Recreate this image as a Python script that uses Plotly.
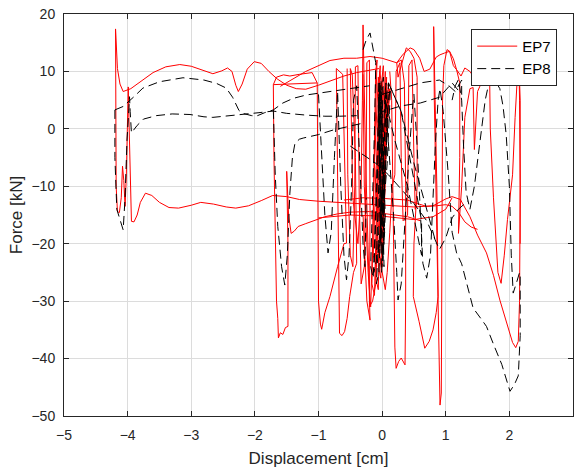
import plotly.graph_objects as go

# ---------------- EP7 (red, solid) segments ----------------
ep7_upper_x = [-4.19,-4.18,-4.16,-4.12,-4.07,-3.95,-3.8,-3.6,-3.4,-3.18,-3.0,-2.8,-2.66,-2.52,-2.43,-2.36,-2.3,-2.26,-2.2,-2.12,-2.01,-1.9,-1.78,-1.65,-1.5,-1.35,-1.2,-1.0,-0.8,-0.6,-0.4,-0.2,-0.05]
ep7_upper_y = [17.4,14,10.5,7.8,6.5,7.0,8.2,9.8,10.8,11.2,10.9,10.1,9.6,10.1,10.6,10.0,7.6,6.5,7.8,10.4,11.7,11.4,10.0,8.7,7.6,7.0,6.9,7.6,8.4,9.2,9.8,10.2,10.5]

ep7_lower_x = [-4.19,-4.19,-4.18,-4.16,-4.13,-4.1,-4.08,-4.06,-4.04,-4.02,-4.0,-3.99,-3.98,-3.96,-3.94,-3.9,-3.85,-3.8,-3.72,-3.62,-3.5,-3.35,-3.2,-3.0,-2.85,-2.65,-2.45,-2.3,-2.1,-1.9,-1.72,-1.5,-1.3,-1.0,-0.7,-0.4,-0.1,0.2,0.5,0.8,1.0,1.1,1.23,1.38,1.5,1.64,1.75,1.85,1.95,2.05,2.1,2.14,2.16,2.17,2.16,2.15]
ep7_lower_y = [17.4,0,-10,-14.4,-14.6,-12,-6.5,-9,-13.5,-8,2,7.3,2,-10,-16.1,-16.2,-15,-12.8,-11.2,-11.6,-12.8,-13.7,-13.8,-13.3,-12.8,-13.1,-13.6,-13.8,-13.4,-12.5,-11.6,-11.8,-12.3,-12.6,-12.8,-12.9,-13.1,-13.3,-13.6,-13.4,-12.2,-11.8,-12.3,-15.3,-18.5,-21.6,-25.5,-29.8,-33.5,-37.2,-38.1,-37,-30,-10,5,11.5]

ep7_m17_x = [-1.71,-1.66,-1.55,-1.45,-1.3,-1.1,-1.02,-1.71,-1.70,-1.68,-1.66,-1.64,-1.63,-1.6,-1.56,-1.52,-1.48,-1.48,-1.50,-1.47,-1.43,-1.38,-1.32,-1.2,-1.05,-0.9,-0.7,-0.5,-0.2,0.1,0.4,0.6]
ep7_m17_y = [7.7,9.0,9.4,9.2,9.5,9.8,8.0,7.7,-5,-20,-30,-33,-36.4,-35.5,-35.8,-34.6,-34.4,-20,-7.4,-15,-18.2,-17.8,-17.0,-16.5,-15.9,-15.3,-14.8,-14.5,-14.4,-14.8,-15.3,-16.0]

ep7_m10_x = [-1.02,-1.01,-1.0,-0.97,-0.95,-0.9,-0.82,-0.7,-0.6,-0.56,-0.62,-0.72,-0.70,-0.68,-0.67,-0.63,-0.59,-0.55,-0.51,-0.45,-0.40,-0.42,-0.47,-0.50,-0.46,-0.38,-0.33,-0.31,-0.30,-0.26,-0.20,-0.19,-0.24,-0.30]
ep7_m10_y = [8.0,-10,-30,-34,-34.9,-32,-29.2,-24,-20,-19.9,9.5,10.5,-5,-25,-35.6,-36,-35.3,-33,-29.2,-25,-23.4,-5,9.5,10.5,-12,-20,-10,5,18.1,-5,-28,-33.3,-30,-15]

ep7_center_x = [-0.3,-0.28,-0.22,-0.18,-0.15,-0.12,-0.1,-0.08,-0.12,-0.16,-0.12,-0.08,-0.05,-0.03,-0.07,-0.1,-0.06,-0.02,0.0,0.02,-0.02,-0.06,-0.02,0.02,0.04,0.05,0.0,-0.04,0.0,0.04,0.06,0.02,-0.02,0.02,0.06,0.07,0.03,-0.04,0.01,0.05,-0.02,-0.08,-0.03,0.02,-0.04,-0.1,-0.14,-0.09,-0.05,0.0,-0.06,-0.12,-0.06,0.03,0.08,0.1,0.04,-0.03,0.02,0.09,0.12,0.06]
ep7_center_y = [9.5,-10,-25,-31,-20,0,10,12,-5,-27,-29,-10,8,11,-10,-26,-28,-8,9,11,-8,-24,-26,-6,8,10,-10,-22,-24,-4,7,-12,-20,-21,-2,9,-5,-19,-18,5,8,-16,-14,6,10,-8,-22,-24,-12,4,9,-6,-17,-15,2,8,-4,-13,-11,3,7,-2]

ep7_fan_x = [-0.55,-0.54,-0.5,-0.46,-0.43,-0.42,-0.38,-0.36,-0.33,-0.28,-0.25,-0.24,-0.2,-0.19,-0.2,-0.15,-0.1,-0.08,0.05,0.08,0.12,0.16,0.2,0.22,0.28,0.3,0.33,0.4,0.42,0.47,0.5,0.52,0.55]
ep7_fan_y = [10.5,-8,-22,-24,-10,10.8,11,-12,-27,-24,-5,11.5,12,-15,-31,-30,-27,-20,-28,-25,-18,-10,-8,10,11.5,-5,-16,-15,11,12,-5,-14,-12.5]

ep7_right_x = [0.12,0.15,0.18,0.2,0.22,0.26,0.3,0.34,0.36,0.37,0.37,0.35,0.3,0.23,0.25,0.3,0.38,0.44,0.5,0.55,0.55,0.5,0.49,0.58,0.67,0.74,0.80,0.85,0.88,0.86,0.83,0.81,0.82,0.85,0.88,0.90,0.91,0.93,0.94,0.95,0.95,0.97,1.02,1.06,1.12,1.17,1.22,1.22,1.21,1.2,1.25,1.3,1.38,1.43,1.45,1.5,1.6,1.66,1.69,1.70,1.75,1.82,1.87,1.92,1.97,2.05,2.09,2.12,2.15,2.17,2.17]
ep7_right_y = [10,5,-20,-38,-41.7,-40.5,-39.9,-40.6,-41.1,-30,-10,8,12,11.5,9,11,14.1,13.5,12.3,9,-10,-20,-29.2,-33.5,-38.2,-37,-35,-32,-29.2,-10,8,17.8,5,-15,-35,-45,-48.1,-46,-30,-10,5,11,13.8,13.5,11,10.3,8,-5,-14,-18.2,-10,2,7,7.2,-3.6,6.5,9,10.5,9.1,0,-12,-25,-26.9,-22,-15.8,-8,2,8,11.5,5,-20]

ep7_top_x = [-1.6,-1.2,-0.82,-0.6,-0.4,-0.19,0.0,0.23,0.33,0.44,0.5,0.59,0.66,0.75,0.85,0.91,0.98,1.06,1.12,1.17,1.24,1.3,1.38,1.44]
ep7_top_y = [7.4,10.0,11.9,12.3,12.3,12.6,12.3,11.5,13.0,14.1,13.8,12.3,10.0,10.4,12.5,12.9,13.2,13.5,12.2,10.3,9.2,10.6,10.0,9.0]

ep7_mid_x = [-0.6,-0.3,0.0,0.2,0.4,0.55,0.7,0.85,1.0,1.1,1.2,1.3,1.4,1.5]
ep7_mid_y = [-12.4,-12.0,-12.1,-12.3,-12.4,-13.0,-13.5,-13.4,-13.2,-13.5,-14.5,-16.2,-17.1,-17.5]

ep7_band_x = [-1.0,-0.5,0.0,0.5,0.8,1.0,1.1]
ep7_band_y = [-15.5,-15.0,-15.2,-15.8,-15.3,-14.0,-12.0]

# ---------------- EP8 (black, dashed) segments ----------------
ep8_low_x = [-4.2,-4.2,-4.17,-4.12,-4.07,-4.04,-4.01,-3.98,-3.97,-3.96,-3.94,-3.85,-3.75,-3.55,-3.3,-3.02,-2.8,-2.66,-2.45,-2.19,-1.95,-1.71,-1.5,-1.2,-0.9,-0.67,-0.4]
ep8_low_y = [3.3,-5,-14,-16,-17.6,-12,-2,3.5,5.6,3,-0.7,0.6,1.7,2.3,2.6,2.5,2.1,2.0,2.2,2.5,2.8,3.1,2.7,2.4,2.2,2.2,2.3]

ep8_up_x = [-4.2,-4.07,-3.9,-3.76,-3.5,-3.13,-2.8,-2.6,-2.45,-2.35,-2.25,-2.19,-2.05,-1.98,-1.85,-1.71,-1.56,-1.4,-1.19,-0.9,-0.67,-0.4,-0.2]
ep8_up_y = [3.3,3.9,5.6,7.1,8.2,8.9,8.5,7.9,7.1,5.5,3.2,2.7,2.3,2.2,2.8,3.3,4.5,5.3,5.9,6.4,6.8,7.2,7.5]

ep8_m17_x = [-1.71,-1.68,-1.64,-1.58,-1.53,-1.49,-1.45,-1.41,-1.37,-1.3,-1.24,-1.0,-0.77,-0.5,-0.3]
ep8_m17_y = [3.3,-8,-17,-24,-27.2,-22,-11.2,-5,-2.5,-1.8,-1.6,-1.0,-0.2,0.5,1.0]

ep8_m09_x = [-1.0,-0.95,-0.9,-0.85,-0.8,-0.75,-0.7,-0.65,-0.6,-0.56,-0.52,-0.48,-0.45,-0.4,-0.35,-0.3,-0.27,-0.25]
ep8_m09_y = [6.0,-5,-15,-21.6,-18,-5,6.5,-10,-22,-26.3,-22,-10,5,7.5,-8,-20,-24,-12]

ep8_center_x = [-0.3,-0.25,-0.19,-0.14,-0.1,-0.12,-0.15,-0.18,-0.14,-0.1,-0.06,-0.03,-0.06,-0.1,-0.13,-0.09,-0.05,-0.01,0.02,-0.02,-0.06,-0.09,-0.05,0.0,0.04,0.06,0.02,-0.03,-0.07,-0.02,0.03,0.07,0.1,0.06,0.0,-0.04,0.01,0.06,0.1,0.13,0.08,0.02,-0.02,0.04,0.09]
ep8_center_y = [13.8,15.5,16.7,14,11.5,0,-12,-24,-26,-14,2,8,-4,-18,-25,-23,-8,6,9,-6,-20,-27,-25,-10,5,8,-8,-18,-22,-19,-4,6,8,-5,-15,-20,-17,-2,5,7,-6,-14,-16,-10,3]

ep8_core_x = [-0.06,-0.02,0.03,-0.03,-0.05,0.0,0.04,-0.02,-0.06,-0.01,0.03,-0.04,-0.05,0.01,0.05,-0.03,-0.04,0.02,0.04,-0.02]
ep8_core_y = [8,-20,-24,5,6,-22,-18,7,4,-25,-20,8,3,-23,-15,6,-5,-19,-10,9]

ep8_diag_x = [0.05,0.2,0.4,0.55,0.62,0.62,0.45,0.3,0.1,0.1,0.3,0.5,0.7,0.85]
ep8_diag_y = [5,-2,-10,-18,-22,-16,-6,3,8,8,3,-6,-14,-20]

ep8_topr_x = [0.0,0.3,0.6,0.9,1.05,1.15,1.25,1.25,1.1,0.9,0.6,0.3,0.0]
ep8_topr_y = [6,7,8,8.5,7.5,6.5,8.5,6,8,5.5,4.5,4,3]

ep8_right_x = [0.05,0.12,0.18,0.23,0.25,0.3,0.36,0.42,0.48,0.5,0.55,0.6,0.64,0.7,0.76,0.8,0.84,0.88,0.91,0.96,1.04,1.1,1.17,1.25,1.35,1.43,1.55,1.64,1.75,1.88,2.01,2.08,2.14,2.17,2.17,2.16,2.12,2.06,2.03,2.0,1.95,1.9,1.85,1.78,1.72,1.69,1.62,1.56,1.5,1.45,1.38,1.32,1.28,1.25,1.2,1.15,1.1]
ep8_right_y = [5,-5,-15,-25,-29.8,-27,-15,-5,4,6,-3,-15,-23.4,-26,-22,-12,-2,5,7,3,-8,-18,-21.6,-23.5,-28,-31.2,-33,-34.4,-37.5,-41,-45.7,-44.5,-43,-36,-25.7,-25,-26.5,-28.6,-22,-10,-1,4,7,8.3,8.8,8.6,5,0,-5,-10,-14,-11,-3,5,8.6,7.5,5]

ep8_mid_x = [-0.5,-0.3,-0.1,0.1,0.3,0.5,0.6,0.7,0.8,0.9,1.0,1.1,1.2,1.3,1.35]
ep8_mid_y = [-3.0,-4.5,-6.0,-8.0,-10.5,-13.0,-14.5,-16.0,-18.5,-21.0,-19.0,-15.5,-14.0,-13.0,-12.5]


def join(*segs):
    out = []
    for s in segs:
        if out:
            out.append(None)
        out.extend(s)
    return out


ep7_x = join(ep7_upper_x, ep7_lower_x, ep7_m17_x, ep7_m10_x, ep7_center_x, ep7_fan_x, ep7_right_x, ep7_top_x, ep7_mid_x, ep7_band_x)
ep7_y = join(ep7_upper_y, ep7_lower_y, ep7_m17_y, ep7_m10_y, ep7_center_y, ep7_fan_y, ep7_right_y, ep7_top_y, ep7_mid_y, ep7_band_y)
ep8_x = join(ep8_low_x, ep8_up_x, ep8_m17_x, ep8_m09_x, ep8_center_x, ep8_core_x, ep8_diag_x, ep8_topr_x, ep8_right_x, ep8_mid_x)
ep8_y = join(ep8_low_y, ep8_up_y, ep8_m17_y, ep8_m09_y, ep8_center_y, ep8_core_y, ep8_diag_y, ep8_topr_y, ep8_right_y, ep8_mid_y)

FONT = "Liberation Sans, Arial, sans-serif"
AX = "#262626"

fig = go.Figure()
fig.add_trace(go.Scatter(x=ep7_x, y=ep7_y, mode="lines", name="EP7",
                         line=dict(color="#ff0000", width=1), connectgaps=False))
fig.add_trace(go.Scatter(x=ep8_x, y=ep8_y, mode="lines", name="EP8",
                         line=dict(color="#000000", width=1, dash="9px,5px"), connectgaps=False))

axis_common = dict(showline=True, linecolor=AX, linewidth=1, mirror="allticks",
                   ticks="inside", ticklen=5, tickcolor=AX, showgrid=True,
                   gridcolor="#dcdcdc", gridwidth=1, zeroline=False,
                   tickfont=dict(family=FONT, size=14, color=AX))

fig.update_xaxes(range=[-5, 3], dtick=1, tick0=-5, ticklabelstandoff=6,
                 title=dict(text="Displacement [cm]", font=dict(family=FONT, size=17, color=AX), standoff=10),
                 **axis_common)
fig.update_yaxes(range=[-50, 20], dtick=10, tick0=-50, ticklabelstandoff=5,
                 title=dict(text="Force [kN]", font=dict(family=FONT, size=17, color=AX), standoff=4),
                 **axis_common)

fig.update_layout(
    width=574, height=470,
    margin=dict(l=64, r=1, t=14, b=54),
    paper_bgcolor="white", plot_bgcolor="white",
    font=dict(family=FONT, color=AX),
    showlegend=True,
    legend=dict(x=0.969, y=0.963, xanchor="right", yanchor="top",
                bgcolor="white", bordercolor=AX, borderwidth=1,
                font=dict(family=FONT, size=15, color="#000000"),
                tracegroupgap=0, itemwidth=40),
)

fig.write_html("out.html")
